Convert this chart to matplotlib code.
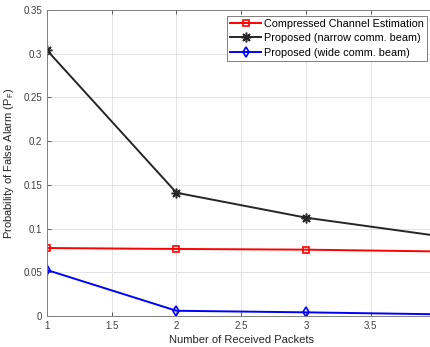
import matplotlib.pyplot as plt
import numpy as np

plt.rcParams['font.family'] = ['Liberation Sans', 'DejaVu Sans']

# data
packets = [1, 2, 3, 4]
cce = [0.0778, 0.0767, 0.0759, 0.0739]
narrow = [0.304, 0.141, 0.1125, 0.092]
wide = [0.0526, 0.0060, 0.0042, 0.0020]

labels = ['Compressed Channel Estimation',
          'Proposed (narrow comm. beam)',
          'Proposed (wide comm. beam)']
xtick_vals = [1, 1.5, 2, 2.5, 3, 3.5, 4]
xtick_txt = ['1', '1.5', '2', '2.5', '3', '3.5', '']
ytick_txt = ['0', '0.05', '0.1', '0.15', '0.2', '0.25', '0.3', '0.35']

fig = plt.figure(figsize=(4.31, 3.47), dpi=100)
# axes runs a bit past the right edge, like the cropped original
ax = fig.add_axes([0.109, 0.0893, 0.9014, 0.8818])

ax.plot(packets, cce, 'r-s', lw=1.4, ms=5, mfc='none', mew=1.2, label=labels[0])
ax.plot(packets, narrow, '-', marker=(8, 2, 0), color='#262626', lw=1.4, ms=7,
        mew=1.1, label=labels[1])
ax.plot(packets, wide, 'b-d', lw=1.4, ms=5.5, mfc='none', mew=1.2, label=labels[2])

ax.set_xlim(1, 4)
ax.set_ylim(0, 0.35)
ax.set_xticks(xtick_vals)
ax.set_xticklabels(xtick_txt)
ax.set_yticks(np.arange(0, 0.351, 0.05))
ax.set_yticklabels(ytick_txt)
ax.grid(True, color='#e3e3e3', lw=0.7)
ax.set_axisbelow(True)
ax.tick_params(direction='in', top=True, right=True, labelsize=7,
               colors='#404040', length=3, width=0.6)
for s in ax.spines.values():
    s.set_color('#808080')
    s.set_linewidth(0.7)

ax.set_xlabel('Number of Received Packets', fontsize=8, color='#262626', labelpad=3)
ax.set_ylabel('Probability of False Alarm (P$_\\mathregular{F}$)', fontsize=8,
              color='#262626', labelpad=5)

leg = fig.legend(loc='upper right', bbox_to_anchor=(0.991, 0.955), fontsize=7.8,
                 fancybox=False, framealpha=1, edgecolor='#808080',
                 handlelength=2.8, borderpad=0.3, labelspacing=0.4,
                 handletextpad=0.3, borderaxespad=0)
leg.get_frame().set_linewidth(0.7)

fig.savefig('out.png', dpi=100)
